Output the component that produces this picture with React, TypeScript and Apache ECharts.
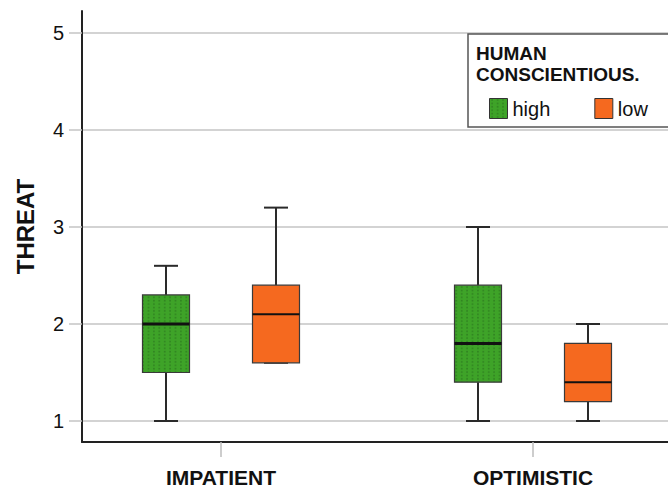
import React, { useEffect, useRef } from "react";
import * as echarts from "echarts";

// ---- data ----
const categories = ["IMPATIENT", "OPTIMISTIC"];
const seriesNames = ["high", "low"];
// [min, Q1, median, Q3, max]
const highStats = [
  [1.0, 1.5, 2.0, 2.3, 2.6],
  [1.0, 1.4, 1.8, 2.4, 3.0],
];
const lowStats = [
  [1.6, 1.6, 2.1, 2.4, 3.2],
  [1.0, 1.2, 1.4, 1.8, 2.0],
];
const yTicks = [1, 2, 3, 4, 5];
const legendTitleLines = ["HUMAN", "CONSCIENTIOUS."];
const yTitle = "THREAT";

// ---- styles ----
const FONT = "'Liberation Sans', Arial, Helvetica, sans-serif";
const GREEN = "#3ea328";
const ORANGE = "#f5691f";
const BOX_W = 47;
const CAP_W = 24;
const DODGE = 55;

const patternSvg =
  "<svg xmlns='http://www.w3.org/2000/svg' width='5.4' height='3.4'>" +
  "<rect x='0' y='0' width='5.4' height='3.4' fill='" + GREEN + "'/>" +
  "<rect x='2.3' y='0.7' width='0.8' height='1.6' fill='#22621a'/></svg>";
const greenPattern: any = {
  image: "data:image/svg+xml;charset=utf-8," + encodeURIComponent(patternSvg),
  repeat: "repeat",
  imageWidth: 5.4,
  imageHeight: 3.4,
};

function makeRender(dodge: number, fill: any, medianWidth: number) {
  return (params: any, api: any) => {
    const xi = api.value(0);
    const pt = (v: number) => api.coord([xi, v]);
    const cx = pt(api.value(1))[0] + dodge;
    const yMin = pt(api.value(1))[1];
    const yQ1 = pt(api.value(2))[1];
    const yMed = pt(api.value(3))[1];
    const yQ3 = pt(api.value(4))[1];
    const yMax = pt(api.value(5))[1];
    const hw = BOX_W / 2;
    const cw = CAP_W / 2;
    const ls = { stroke: "#2a2a2a", lineWidth: 2 };
    return {
      type: "group",
      children: [
        { type: "line", shape: { x1: cx, y1: yQ3, x2: cx, y2: yMax }, style: ls },
        { type: "line", shape: { x1: cx, y1: yQ1, x2: cx, y2: yMin }, style: ls },
        { type: "line", shape: { x1: cx - cw, y1: yMax, x2: cx + cw, y2: yMax }, style: ls },
        { type: "line", shape: { x1: cx - cw, y1: yMin, x2: cx + cw, y2: yMin }, style: ls },
        {
          type: "rect",
          shape: { x: cx - hw, y: yQ3, width: 2 * hw, height: yQ1 - yQ3 },
          style: { fill, stroke: "#3a3a3a", lineWidth: 1.2 },
        },
        {
          type: "line",
          shape: { x1: cx - hw, y1: yMed, x2: cx + hw, y2: yMed },
          style: { stroke: "#111", lineWidth: medianWidth },
        },
      ],
    };
  };
}

export default function App() {
  const ref = useRef<HTMLDivElement>(null);
  useEffect(() => {
    if (!ref.current) return;
    const chart = echarts.init(ref.current, null, { renderer: "svg" });
    const option: any = {
      animation: false,
      backgroundColor: "#fff",
      grid: { left: 82, right: 0, top: 11, bottom: 47, containLabel: false },
      xAxis: {
        type: "value",
        min: -0.4455,
        max: 1.4327,
        axisLine: { show: true, onZero: false, lineStyle: { color: "#222", width: 2 } },
        axisTick: { show: true, customValues: [0, 1], length: 15, lineStyle: { color: "#bdbdbd", width: 1.5 } },
        axisLabel: {
          show: true,
          customValues: [0, 1],
          formatter: (v: number) => categories[Math.round(v)] ?? "",
          margin: 25,
          fontSize: 21,
          fontWeight: "bold",
          color: "#111",
          fontFamily: FONT,
        },
        splitLine: { show: false },
      },
      yAxis: {
        type: "value",
        min: 0.7835,
        max: 5.227,
        name: yTitle,
        nameLocation: "middle",
        nameRotate: 90,
        nameGap: 45,
        nameTextStyle: { fontSize: 24, fontWeight: "bold", color: "#111", fontFamily: FONT },
        axisLine: { show: true, onZero: false, lineStyle: { color: "#222", width: 2 } },
        axisTick: { show: true, customValues: yTicks, length: 13, lineStyle: { color: "#c4c4c4", width: 1.5 } },
        axisLabel: {
          show: true,
          customValues: yTicks,
          margin: 18,
          fontSize: 20,
          color: "#111",
          fontFamily: FONT,
        },
        splitLine: { show: true, lineStyle: { color: "#c4c4c4", width: 1.5 } },
      },
      legend: {
        left: 489,
        top: 98,
        padding: 0,
        itemWidth: 18,
        itemHeight: 20,
        itemGap: 44,
        icon: "rect",
        z: 6,
        textStyle: { fontSize: 20, color: "#111", fontFamily: FONT },
        data: [
          { name: seriesNames[0], itemStyle: { color: greenPattern, borderColor: "#333", borderWidth: 1 } },
          { name: seriesNames[1], itemStyle: { color: ORANGE, borderColor: "#333", borderWidth: 1 } },
        ],
      },
      graphic: [
        {
          type: "rect",
          z: 5,
          shape: { x: 468, y: 34, width: 230, height: 93 },
          style: { fill: "#fff", stroke: "#555", lineWidth: 1.5 },
        },
        ...legendTitleLines.map((t, i) => ({
          type: "text",
          z: 6,
          x: 476,
          y: 43.5 + i * 21.5,
          style: {
            text: t,
            font: "bold 19px " + FONT,
            fill: "#111",
          },
        })),
      ],
      series: [
        {
          name: seriesNames[0],
          type: "custom",
          itemStyle: { color: GREEN },
          encode: { x: 0, y: [1, 2, 3, 4, 5] },
          renderItem: makeRender(-DODGE, greenPattern, 3),
          data: highStats.map((s, i) => [i, ...s]),
          z: 2,
        },
        {
          name: seriesNames[1],
          type: "custom",
          itemStyle: { color: ORANGE },
          encode: { x: 0, y: [1, 2, 3, 4, 5] },
          renderItem: makeRender(DODGE, ORANGE, 2),
          data: lowStats.map((s, i) => [i, ...s]),
          z: 2,
        },
      ],
    };
    chart.setOption(option);
    return () => chart.dispose();
  }, []);
  return (
    <div
      ref={ref}
      style={{ position: "fixed", left: 0, top: 0, width: 668, height: 489, background: "#fff" }}
    />
  );
}
